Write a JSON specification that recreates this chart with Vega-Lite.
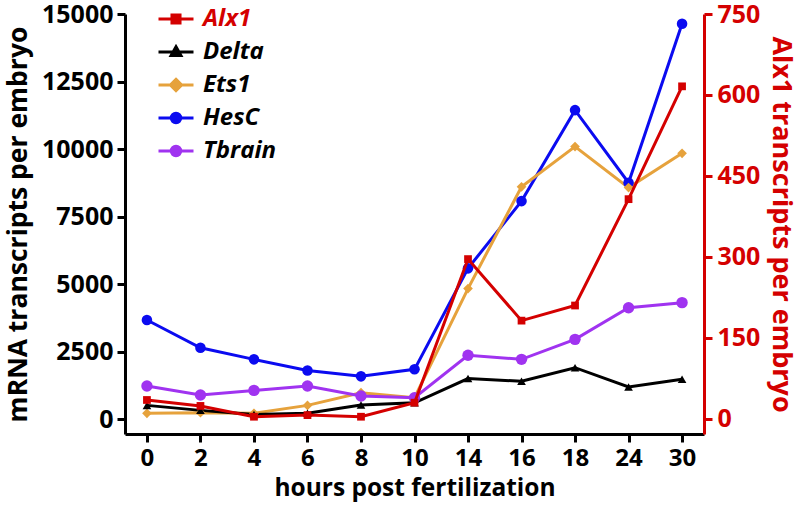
{
  "$schema": "https://vega.github.io/schema/vega-lite/v6.json",
  "autosize": {"type": "none"},
  "width": 579,
  "height": 420,
  "padding": {"left": 125, "top": 14, "right": 95, "bottom": 76},
  "background": "white",
  "config": {
    "view": {"stroke": null},
    "font": "Open Sans",
    "axis": {"grid": false, "labelFont": "Open Sans", "titleFont": "Open Sans", "labelFontWeight": "bold", "titleFontWeight": "bold", "domainWidth": 3, "tickWidth": 3, "tickSize": 8}
  },
  "data": {"values": [
    {"gene": "HesC", "hour": 0, "value": 3667}, {"gene": "HesC", "hour": 2, "value": 2640}, {"gene": "HesC", "hour": 4, "value": 2210}, {"gene": "HesC", "hour": 6, "value": 1800}, {"gene": "HesC", "hour": 8, "value": 1580}, {"gene": "HesC", "hour": 10, "value": 1840}, {"gene": "HesC", "hour": 14, "value": 5580}, {"gene": "HesC", "hour": 16, "value": 8070}, {"gene": "HesC", "hour": 18, "value": 11440}, {"gene": "HesC", "hour": 24, "value": 8750}, {"gene": "HesC", "hour": 30, "value": 14640},
    {"gene": "Ets1", "hour": 0, "value": 210}, {"gene": "Ets1", "hour": 2, "value": 235}, {"gene": "Ets1", "hour": 4, "value": 210}, {"gene": "Ets1", "hour": 6, "value": 505}, {"gene": "Ets1", "hour": 8, "value": 975}, {"gene": "Ets1", "hour": 10, "value": 790}, {"gene": "Ets1", "hour": 14, "value": 4830}, {"gene": "Ets1", "hour": 16, "value": 8600}, {"gene": "Ets1", "hour": 18, "value": 10090}, {"gene": "Ets1", "hour": 24, "value": 8570}, {"gene": "Ets1", "hour": 30, "value": 9840},
    {"gene": "Tbrain", "hour": 0, "value": 1220}, {"gene": "Tbrain", "hour": 2, "value": 890}, {"gene": "Tbrain", "hour": 4, "value": 1060}, {"gene": "Tbrain", "hour": 6, "value": 1220}, {"gene": "Tbrain", "hour": 8, "value": 850}, {"gene": "Tbrain", "hour": 10, "value": 790}, {"gene": "Tbrain", "hour": 14, "value": 2360}, {"gene": "Tbrain", "hour": 16, "value": 2210}, {"gene": "Tbrain", "hour": 18, "value": 2950}, {"gene": "Tbrain", "hour": 24, "value": 4120}, {"gene": "Tbrain", "hour": 30, "value": 4310},
    {"gene": "Delta", "hour": 0, "value": 505}, {"gene": "Delta", "hour": 2, "value": 320}, {"gene": "Delta", "hour": 4, "value": 170}, {"gene": "Delta", "hour": 6, "value": 210}, {"gene": "Delta", "hour": 8, "value": 520}, {"gene": "Delta", "hour": 10, "value": 600}, {"gene": "Delta", "hour": 14, "value": 1500}, {"gene": "Delta", "hour": 16, "value": 1400}, {"gene": "Delta", "hour": 18, "value": 1900}, {"gene": "Delta", "hour": 24, "value": 1185}, {"gene": "Delta", "hour": 30, "value": 1470},
    {"gene": "Alx1", "hour": 0, "value": 35}, {"gene": "Alx1", "hour": 2, "value": 24}, {"gene": "Alx1", "hour": 4, "value": 4}, {"gene": "Alx1", "hour": 6, "value": 7}, {"gene": "Alx1", "hour": 8, "value": 4}, {"gene": "Alx1", "hour": 10, "value": 30}, {"gene": "Alx1", "hour": 14, "value": 296}, {"gene": "Alx1", "hour": 16, "value": 182}, {"gene": "Alx1", "hour": 18, "value": 210}, {"gene": "Alx1", "hour": 24, "value": 407}, {"gene": "Alx1", "hour": 30, "value": 616}
  ]},
  "encoding": {
    "x": {"field": "hour", "type": "ordinal", "scale": {"type": "point", "padding": 0.41},
      "axis": {"title": "hours post fertilization", "labelAngle": 0, "labelFontSize": 24, "titleFontSize": 24.5, "labelPadding": 4, "titlePadding": 6, "domainColor": "black", "tickColor": "black", "labelColor": "black", "titleColor": "black"}},
    "color": {"field": "gene", "type": "nominal",
      "scale": {"domain": ["Alx1", "Delta", "Ets1", "HesC", "Tbrain"], "range": ["#d40000", "#000000", "#e6a23c", "#0b0bf0", "#a033f0"]},
      "legend": {
        "title": null, "orient": "none", "legendX": 32, "legendY": -14, "padding": 0,
        "symbolSize": 1225, "symbolStrokeWidth": 3, "rowPadding": 2, "labelOffset": 8,
        "labelFont": "Open Sans", "labelFontSize": 24, "labelFontWeight": "bold", "labelFontStyle": "italic",
        "encode": {
          "symbols": {"update": {
            "shape": {"signal": "datum.value === 'Alx1' ? 'M-1,0H1M-0.23,-0.23H0.23V0.23H-0.23Z' : datum.value === 'Delta' ? 'M-1,0H1M0,-0.3L0.28,0.2H-0.28Z' : datum.value === 'Ets1' ? 'M-1,0H1M0,-0.32L0.32,0L0,0.32L-0.32,0Z' : 'M-1,0H1M-0.27,0A0.27,0.27 0 1,0 0.27,0A0.27,0.27 0 1,0 -0.27,0Z'"},
            "fill": {"signal": "scale('color', datum.value)"},
            "stroke": {"signal": "scale('color', datum.value)"},
            "strokeWidth": {"value": 3},
            "opacity": {"value": 1}
          }},
          "labels": {"update": {"fill": {"signal": "datum.value === 'Alx1' ? '#d40000' : 'black'"}}}
        }
      }
    }
  },
  "layer": [
    {
      "transform": [{"filter": "datum.gene !== 'Alx1'"}],
      "encoding": {
        "y": {"field": "value", "type": "quantitative", "scale": {"domain": [-555, 15000], "nice": false},
          "axis": {"title": "mRNA transcripts per embryo", "format": "d", "values": [0, 2500, 5000, 7500, 10000, 12500, 15000], "labelFontSize": 25, "titleFontSize": 26.5, "titlePadding": 9, "labelPadding": 4, "domainColor": "black", "tickColor": "black", "labelColor": "black", "titleColor": "black"}}
      },
      "layer": [
        {"mark": {"type": "line", "strokeWidth": 3}},
        {"mark": {"type": "point", "filled": true, "opacity": 1},
          "encoding": {
            "shape": {"field": "gene", "type": "nominal", "scale": {"domain": ["Delta", "Ets1", "HesC", "Tbrain"], "range": ["triangle-up", "diamond", "circle", "circle"]}, "legend": null},
            "size": {"field": "gene", "type": "nominal", "scale": {"domain": ["Delta", "Ets1", "HesC", "Tbrain"], "range": [75, 130, 100, 90]}, "legend": null}
          }}
      ]
    },
    {
      "transform": [{"filter": "datum.gene === 'Alx1'"}],
      "encoding": {
        "y": {"field": "value", "type": "quantitative", "scale": {"domain": [-28, 750], "nice": false},
          "axis": {"orient": "right", "title": "Alx1 transcripts per embryo", "format": "d", "values": [0, 150, 300, 450, 600, 750], "labelFontSize": 25, "titleFontSize": 27, "titlePadding": 7, "labelPadding": 5, "domainColor": "#d40000", "tickColor": "#d40000", "labelColor": "#d40000", "titleColor": "#d40000"}}
      },
      "layer": [
        {"mark": {"type": "line", "strokeWidth": 3, "color": "#d40000"}},
        {"mark": {"type": "point", "filled": true, "shape": "square", "size": 60, "opacity": 1, "color": "#d40000"}}
      ]
    }
  ],
  "resolve": {"scale": {"y": "independent", "shape": "independent", "size": "independent"}}
}
